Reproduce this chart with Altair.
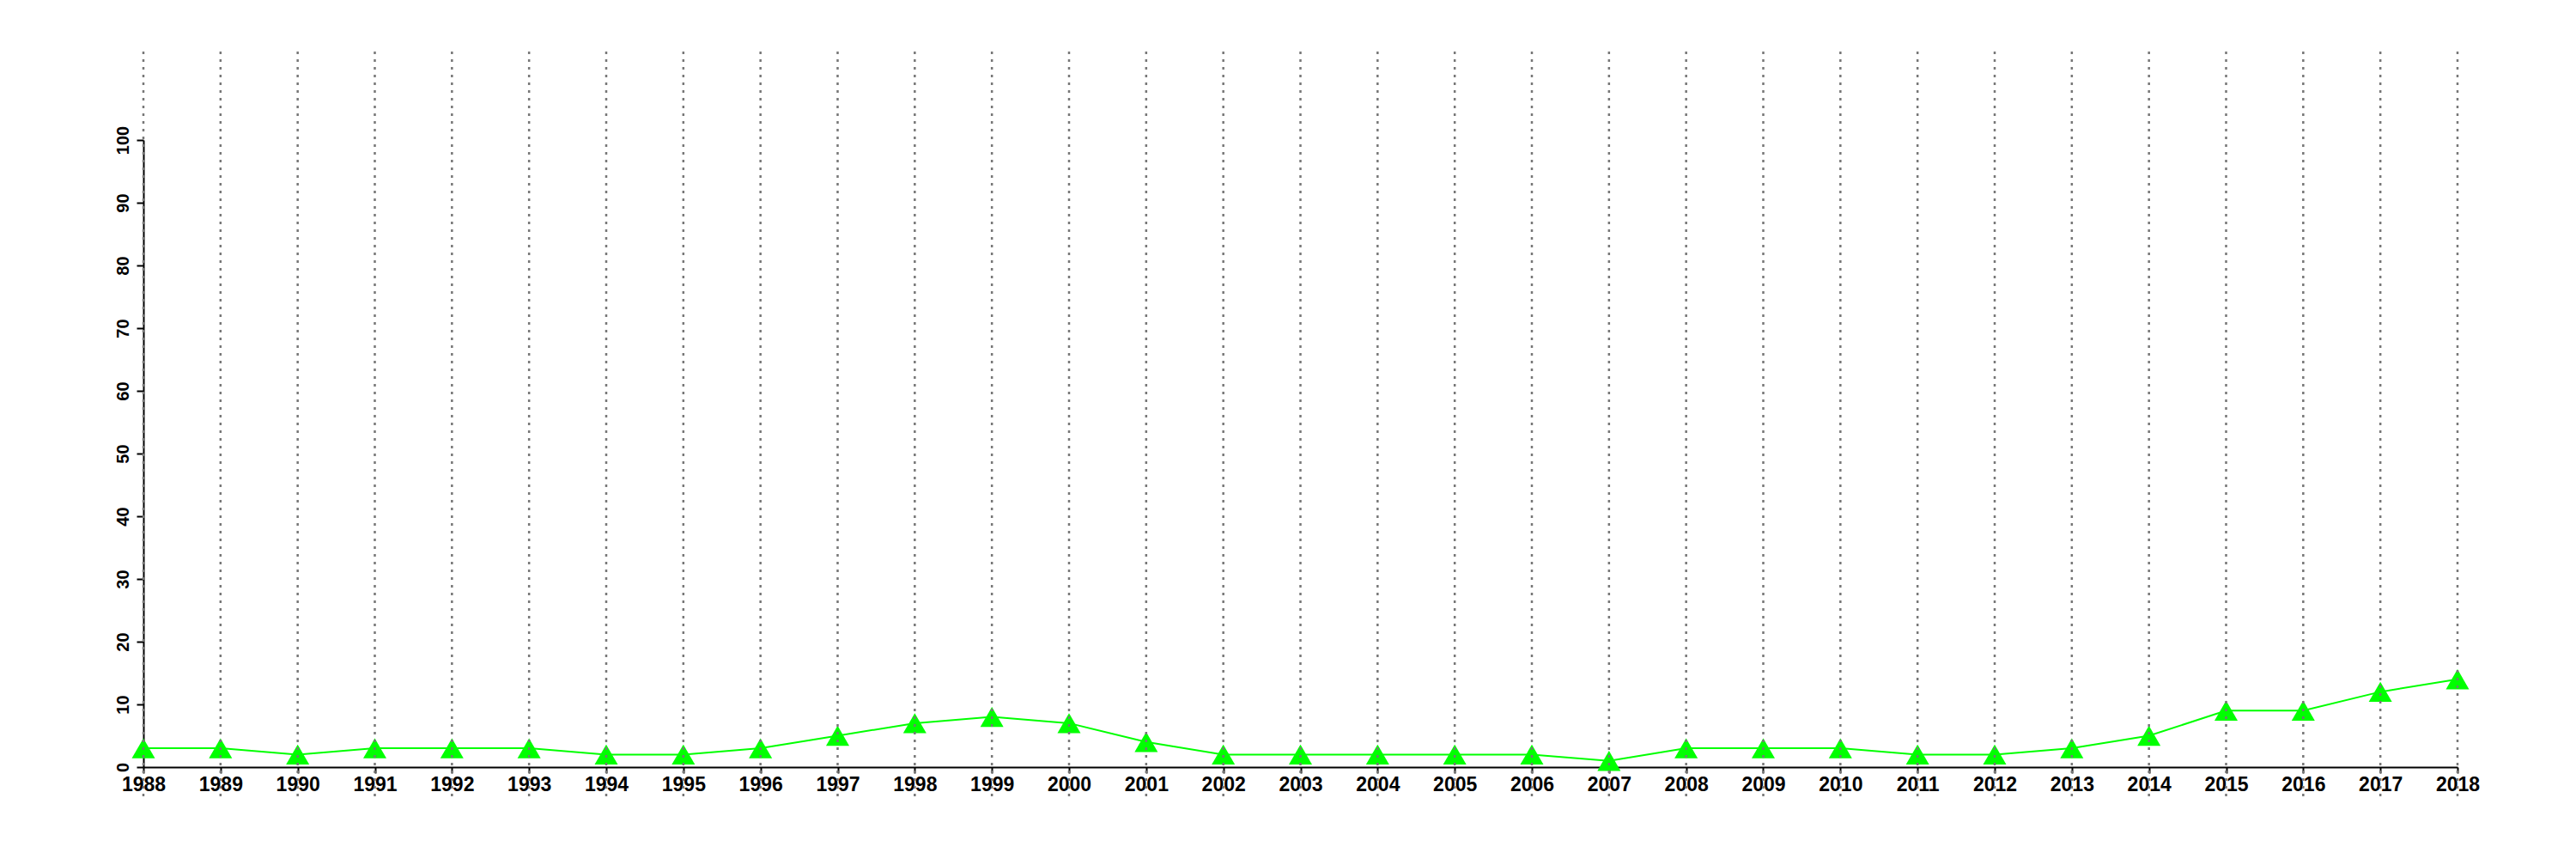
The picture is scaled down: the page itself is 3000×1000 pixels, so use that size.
import altair as alt
import pandas as pd

years = list(range(1988, 2019))
values = [3, 3, 2, 3, 3, 3, 2, 2, 3, 5, 7, 8, 7, 4, 2, 2, 2, 2, 2, 1,
          3, 3, 3, 2, 2, 3, 5, 9, 9, 12, 14]
y_ticks = list(range(0, 101, 10))

df = pd.DataFrame({"year": years, "value": values})

base = alt.Chart(df)

x_enc = alt.X(
    "year:Q",
    scale=alt.Scale(domain=[1988, 2018], nice=False, zero=False),
    axis=alt.Axis(values=years, format="d", title=None, tickSize=7,
                  labelPadding=2, labelAngle=0, labelOverlap=False,
                  labelFlush=False, grid=False, labelFontSize=23),
)
y_enc = alt.Y(
    "value:Q",
    scale=alt.Scale(domain=[0, 100], nice=False, zero=True),
    axis=alt.Axis(values=y_ticks, title=None, tickSize=8, labelPadding=10,
                  labelAngle=270, labelAlign="center",
                  labelBaseline="alphabetic", labelOverlap=False,
                  labelFlush=False, grid=False, labelFontSize=20),
)

line = base.mark_line(color="#00FF00", strokeWidth=2).encode(x=x_enc, y=y_enc)
points = base.mark_point(shape="triangle-up", filled=True, size=730,
                         color="#00FF00", opacity=1).encode(
    x="year:Q", y="value:Q")
grid = base.mark_rule(color="#777777", strokeDash=[3, 6], strokeWidth=2.5).encode(
    x="year:Q", y=alt.value(-103), y2=alt.value(764))

chart = alt.layer(line, points, grid).properties(
    width=2695, height=730,
    padding={"left": 159, "top": 155, "right": 130, "bottom": 99},
    autosize=alt.AutoSizeParams(type="none"),
    background="white",
).configure_axis(
    labelFont="Liberation Sans", labelFontWeight="bold",
    labelColor="black", domainColor="black", tickColor="black",
    domainWidth=2, tickWidth=2,
).configure_view(stroke="transparent")

chart.save("out.html", embed_options={"renderer": "svg", "actions": False})
